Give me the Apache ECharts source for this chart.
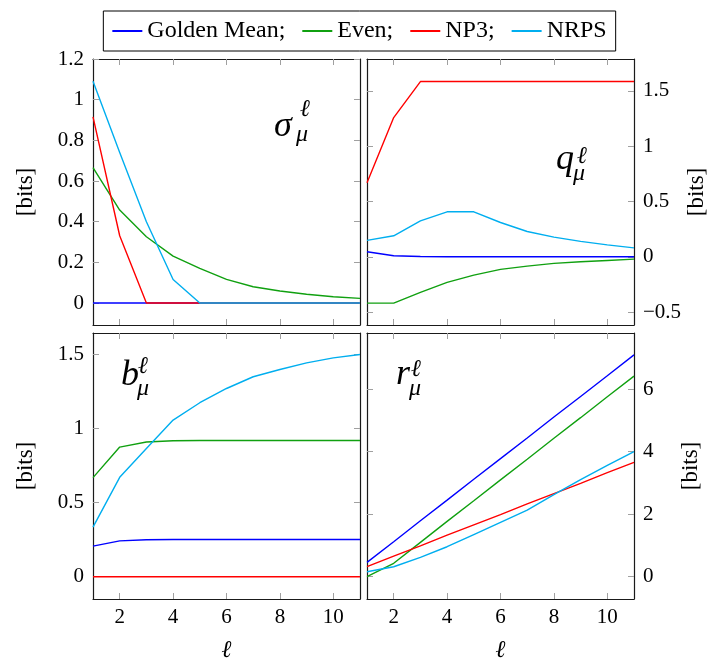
<!DOCTYPE html>
<html>
<head>
<meta charset="utf-8">
<script src="https://cdn.jsdelivr.net/npm/echarts@6/dist/echarts.min.js"></script>
<style>
html,body{margin:0;padding:0;background:#fff;}
#chart{width:719px;height:658px;}
</style>
</head>
<body>
<div id="chart"></div>
<script>
// ---- data ----
const ells = [1, 2, 3, 4, 5, 6, 7, 8, 9, 10, 11];
const xTicks = [2, 4, 6, 8, 10];
const seriesNames = ['Golden Mean;', 'Even;', 'NP3;', 'NRPS'];

// sigma_mu
const sigmaGolden = [0, 0, 0, 0, 0, 0, 0, 0, 0, 0, 0];
const sigmaEven   = [0.666, 0.457, 0.326, 0.231, 0.170, 0.116, 0.080, 0.059, 0.043, 0.031, 0.023];
const sigmaNP3    = [0.915, 0.331, 0, 0, 0, 0, 0, 0, 0, 0, 0];
const sigmaNRPS   = [1.090, 0.740, 0.400, 0.116, 0, 0, 0, 0, 0, 0, 0];
const sigmaTicks  = [0, 0.2, 0.4, 0.6, 0.8, 1, 1.2];

// q_mu
const qGolden = [0.045, 0.009, 0.003, 0.001, 0, 0, 0, 0, 0, 0, 0];
const qEven   = [-0.419, -0.419, -0.322, -0.232, -0.166, -0.114, -0.084, -0.060, -0.045, -0.033, -0.021];
const qNP3    = [0.669, 1.259, 1.585, 1.585, 1.585, 1.585, 1.585, 1.585, 1.585, 1.585, 1.585];
const qNRPS   = [0.148, 0.190, 0.325, 0.407, 0.407, 0.310, 0.229, 0.178, 0.139, 0.108, 0.081];
const qTicks  = [-0.5, 0, 0.5, 1, 1.5];

// b_mu
const bGolden = [0.206, 0.242, 0.249, 0.251, 0.251, 0.251, 0.251, 0.251, 0.251, 0.251, 0.251];
const bEven   = [0.668, 0.874, 0.908, 0.917, 0.918, 0.918, 0.918, 0.918, 0.918, 0.918, 0.918];
const bNP3    = [0, 0, 0, 0, 0, 0, 0, 0, 0, 0, 0];
const bNRPS   = [0.334, 0.670, 0.865, 1.056, 1.173, 1.269, 1.348, 1.397, 1.442, 1.475, 1.498];
const bTicks  = [0, 0.5, 1, 1.5];

// r_mu
const rGolden = [0.46, 1.12, 1.79, 2.45, 3.12, 3.78, 4.44, 5.11, 5.77, 6.43, 7.10];
const rEven   = [0, 0.43, 1.10, 1.77, 2.43, 3.10, 3.76, 4.43, 5.09, 5.76, 6.42];
const rNP3    = [0.32, 0.66, 0.99, 1.33, 1.66, 1.99, 2.33, 2.66, 2.99, 3.33, 3.66];
const rNRPS   = [0.16, 0.32, 0.62, 0.96, 1.35, 1.74, 2.13, 2.63, 3.11, 3.56, 4.00];
const rTicks  = [0, 2, 4, 6];

// ---- styling / layout ----
const colors = ['#0000ff', '#10a010', '#ff0000', '#00aeef'];
const FONT = '"Liberation Serif", "DejaVu Serif", serif';
const panels = [
  {grid: {left: 93, top: 59, width: 267, height: 266}, side: 'left', min: -0.108, max: 1.2, ticks: sigmaTicks, xLabels: false,
   data: [sigmaGolden, sigmaEven, sigmaNP3, sigmaNRPS]},
  {grid: {left: 367, top: 59, width: 267, height: 266}, side: 'right', min: -0.617, max: 1.789, ticks: qTicks, xLabels: false,
   data: [qGolden, qEven, qNP3, qNRPS]},
  {grid: {left: 93, top: 333, width: 267, height: 266}, side: 'left', min: -0.150, max: 1.643, ticks: bTicks, xLabels: true,
   data: [bGolden, bEven, bNP3, bNRPS]},
  {grid: {left: 367, top: 333, width: 267, height: 266}, side: 'right', min: -0.713, max: 7.80, ticks: rTicks, xLabels: true,
   data: [rGolden, rEven, rNP3, rNRPS]}
];

const axisLine = {show: true, onZero: false, lineStyle: {color: '#1a1a1a', width: 1.2}};
const tickStyle = {color: '#a0a0a0', width: 1};
const labelFmt = v => String(v).replace('-', '\u2212');

const grids = [], xAxes = [], yAxes = [], series = [];
panels.forEach((p, gi) => {
  grids.push(Object.assign({outerBoundsMode: 'none', containLabel: false}, p.grid));
  // bottom x axis
  xAxes.push({
    type: 'value', gridIndex: gi, position: 'bottom', min: 1, max: 11,
    axisLine: axisLine, splitLine: {show: false},
    axisTick: {show: true, inside: true, length: 6, lineStyle: tickStyle, customValues: xTicks},
    axisLabel: {show: p.xLabels, customValues: xTicks, margin: 8, color: '#000', fontFamily: FONT, fontSize: 21},
    name: p.xLabels ? '\u2113' : '', nameLocation: 'middle', nameGap: 40,
    nameTextStyle: {fontFamily: FONT, fontSize: 24, fontStyle: 'italic', color: '#000'}
  });
  // top mirror x axis
  xAxes.push({
    type: 'value', gridIndex: gi, position: 'top', min: 1, max: 11,
    axisLine: axisLine, splitLine: {show: false},
    axisTick: {show: true, inside: true, length: 6, lineStyle: tickStyle, customValues: xTicks},
    axisLabel: {show: false}
  });
  const labeled = {
    type: 'value', gridIndex: gi, position: p.side, min: p.min, max: p.max,
    axisLine: axisLine, splitLine: {show: false},
    axisTick: {show: true, inside: true, length: 6, lineStyle: tickStyle, customValues: p.ticks},
    axisLabel: {show: true, customValues: p.ticks, formatter: labelFmt, margin: 9,
      color: '#000', fontFamily: FONT, fontSize: 21},
    name: '[bits]', nameLocation: 'middle', nameRotate: 90, nameGap: p.side === 'left' ? 56 : 45,
    nameTextStyle: {fontFamily: FONT, fontSize: 23, color: '#000'}
  };
  const mirror = {
    type: 'value', gridIndex: gi, position: p.side === 'left' ? 'right' : 'left', min: p.min, max: p.max,
    axisLine: axisLine, splitLine: {show: false},
    axisTick: {show: true, inside: true, length: 6, lineStyle: tickStyle, customValues: p.ticks},
    axisLabel: {show: false}
  };
  yAxes.push(labeled, mirror);
  p.data.forEach((arr, si) => {
    series.push({
      type: 'line', name: seriesNames[si], xAxisIndex: gi * 2, yAxisIndex: gi * 2,
      data: ells.map((x, i) => [x, arr[i]]),
      showSymbol: false, symbol: 'none', animation: false,
      lineStyle: {color: colors[si], width: 1.4}, itemStyle: {color: colors[si]},
      z: 2 + si
    });
  });
});

function mathLabel(x, y, main, sx, sy, bx, by) {
  return [
    {type: 'text', x: x, y: y, style: {text: main, font: 'italic 36px ' + FONT, fill: '#000', align: 'left', verticalAlign: 'middle'}},
    {type: 'text', x: sx, y: sy, style: {text: '\u2113', font: 'italic 24px ' + FONT, fill: '#000', align: 'left', verticalAlign: 'middle'}},
    {type: 'text', x: bx, y: by, style: {text: '\u03bc', font: 'italic 24px ' + FONT, fill: '#000', align: 'left', verticalAlign: 'middle'}}
  ];
}

const option = {
  backgroundColor: '#fff',
  animation: false,
  color: colors,
  legend: {
    data: seriesNames, top: 11, left: 'center',
    borderColor: '#000', borderWidth: 1, padding: [8, 9], itemGap: 17,
    itemWidth: 30, itemHeight: 2, icon: 'rect',
    textStyle: {fontFamily: FONT, fontSize: 24, color: '#000'}
  },
  grid: grids,
  xAxis: xAxes,
  yAxis: yAxes,
  series: series,
  graphic: [].concat(
    mathLabel(274, 127, '\u03c3', 300, 110, 296, 135),
    mathLabel(556, 160, 'q', 577, 157, 573, 174),
    mathLabel(121, 376, 'b', 138, 367, 137, 389),
    mathLabel(396, 375, 'r', 411, 370, 409, 389)
  )
};

const chart = echarts.init(document.getElementById('chart'), null, {renderer: 'canvas'});
chart.setOption(option);
</script>
</body>
</html>
